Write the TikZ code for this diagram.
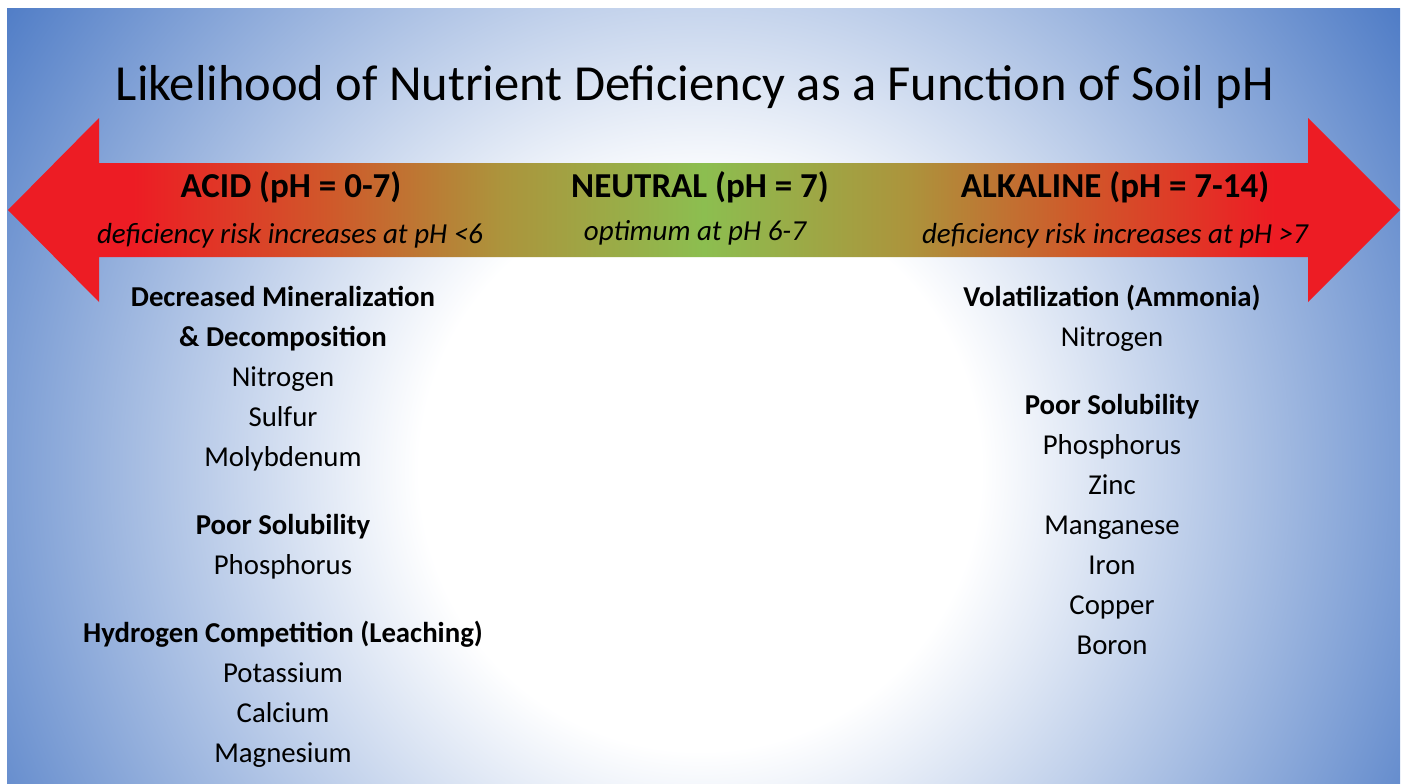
\documentclass[tikz,border=0pt]{standalone}
\usepackage{fontspec}
\setmainfont{Carlito}
\definecolor{phred}{RGB}{237,28,36}
\definecolor{phorange}{RGB}{208,88,42}
\definecolor{pholive}{RGB}{172,148,60}
\definecolor{phgreen}{RGB}{140,190,80}
\definecolor{bgblue}{RGB}{60,110,192}
\pgfdeclarehorizontalshading{phscale}{100bp}{color(0bp)=(phred); color(29.5bp)=(phred);
  color(36.5bp)=(phorange); color(42.7bp)=(pholive); color(50bp)=(phgreen);
  color(57.3bp)=(pholive); color(63.5bp)=(phorange); color(70.5bp)=(phred); color(100bp)=(phred)}
\pgfdeclareradialshading{soilglow}{\pgfpointorigin}{color(0bp)=(white); color(7.8bp)=(white);
  color(25bp)=(bgblue); color(50bp)=(bgblue)}
\begin{document}
\begin{tikzpicture}[x=1pt, y=-1pt,
   every node/.style={inner sep=0pt, align=center},
   title/.style={font=\fontsize{50.5}{60}\selectfont, anchor=base},
   phhead/.style={font=\fontsize{35}{42}\selectfont\bfseries, anchor=base},
   phnote/.style={font=\fontsize{29}{35}\selectfont\itshape, anchor=base},
   cause/.style={font=\fontsize{28.8}{34}\selectfont\bfseries, anchor=base},
   nutrient/.style={font=\fontsize{28.8}{34}\selectfont, anchor=base}]

\useasboundingbox (0,0) rectangle (1403,784);
\begin{scope}
  \clip (7,9) rectangle (1400,784);
  \shade[shading=soilglow] (700,470) circle (900);
\end{scope}

\shade[shading=phscale] (8,210) -- (99,118) -- (99,163) -- (1308,163) -- (1308,118)
   -- (1400,210) -- (1308,302) -- (1308,257) -- (99,257) -- (99,302) -- cycle;

\node[title] (title) at (695,100) {Likelihood of Nutrient Deficiency as a Function of Soil pH};

\node[phhead] (acid) at (291,197) {ACID (pH = 0-7)};
\node[phnote] (acidrisk) at (290,243) {deficiency risk increases at pH <6};
\node[phhead] (neutral) at (700,197) {NEUTRAL (pH = 7)};
\node[phnote] (optimum) at (695,240) {optimum at pH 6-7};
\node[phhead] (alkaline) at (1115,197) {ALKALINE (pH = 7-14)};
\node[phnote] (alkrisk) at (1115,243) {deficiency risk increases at pH >7};

% acid side
\node[cause] (mineral) at (283,306) {Decreased Mineralization};
\node[cause] (decomp) at (283,346) {\& Decomposition};
\node[nutrient] (acidN) at (283,386) {Nitrogen};
\node[nutrient] (acidS) at (283,426) {Sulfur};
\node[nutrient] (acidMo) at (283,466) {Molybdenum};
\node[cause] (acidsol) at (283,534) {Poor Solubility};
\node[nutrient] (acidP) at (283,574) {Phosphorus};
\node[cause] (leach) at (283,642) {Hydrogen Competition (Leaching)};
\node[nutrient] (acidK) at (283,682) {Potassium};
\node[nutrient] (acidCa) at (283,722) {Calcium};
\node[nutrient] (acidMg) at (283,762) {Magnesium};

% alkaline side
\node[cause] (volat) at (1112,306) {Volatilization (Ammonia)};
\node[nutrient] (alkN) at (1112,346) {Nitrogen};
\node[cause] (alksol) at (1112,414) {Poor Solubility};
\node[nutrient] (alkP) at (1112,454) {Phosphorus};
\node[nutrient] (alkZn) at (1112,494) {Zinc};
\node[nutrient] (alkMn) at (1112,534) {Manganese};
\node[nutrient] (alkFe) at (1112,574) {Iron};
\node[nutrient] (alkCu) at (1112,614) {Copper};
\node[nutrient] (alkB) at (1112,654) {Boron};

\end{tikzpicture}
\end{document}
